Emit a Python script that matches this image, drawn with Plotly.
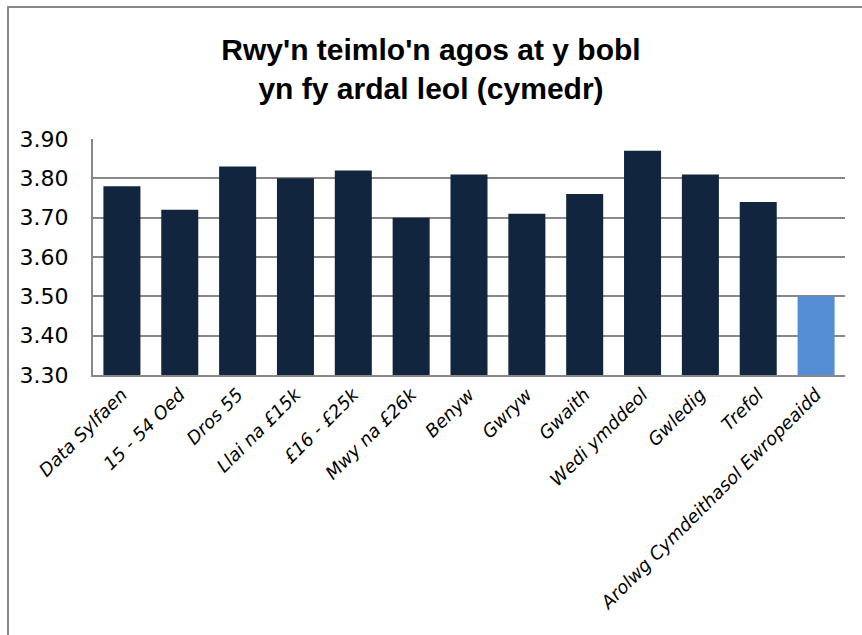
import plotly.graph_objects as go

categories = ["Data Sylfaen", "15 - 54 Oed", "Dros 55", "Llai na £15k", "£16 - £25k",
              "Mwy na £26k", "Benyw", "Gwryw", "Gwaith", "Wedi ymddeol", "Gwledig",
              "Trefol", "Arolwg Cymdeithasol Ewropeaidd"]
values = [3.78, 3.72, 3.83, 3.80, 3.82, 3.70, 3.81, 3.71, 3.76, 3.87, 3.81, 3.74, 3.50]
bar_colors = ["#12253F"] * 12 + ["#558ED5"]
y_ticks = [3.30, 3.40, 3.50, 3.60, 3.70, 3.80, 3.90]
title_text = "Rwy'n teimlo'n agos at y bobl<br>yn fy ardal leol (cymedr)"
y_base = 3.30

fig = go.Figure()
fig.add_trace(go.Bar(
    x=categories, y=[v - y_base for v in values], base=y_base,
    marker=dict(color=bar_colors, line=dict(width=0)),
))

fig.update_layout(
    width=862, height=635,
    margin=dict(l=93, r=17, t=139, b=260),
    paper_bgcolor="white", plot_bgcolor="white",
    bargap=0.36,
    showlegend=False,
    title=dict(text=title_text, x=0.5, xanchor="center", y=1 - 60 / 635, yanchor="middle",
               yref="container",
               font=dict(family="Liberation Sans, Arial, sans-serif",
                         size=30, color="#000000", weight="bold")),
    xaxis=dict(tickangle=-45, tickfont=dict(family="DejaVu Sans, sans-serif", size=18, color="#000000", style="italic"),
               showgrid=False, showline=True, linecolor="#888888", linewidth=2, ticks=""),
    yaxis=dict(range=[3.30, 3.90], tickvals=y_ticks, tickformat=".2f",
               tickfont=dict(family="DejaVu Sans, sans-serif", size=22, color="#000000"),
               ticklabelstandoff=18,
               showgrid=True, gridcolor="#888888", gridwidth=1.5,
               showline=True, linecolor="#888888", linewidth=2, ticks="", zeroline=False),
    shapes=[dict(type="rect", xref="paper", yref="paper",
                 x0=(8 - 93) / 752, x1=2.0, y0=-2.0, y1=(375 - 7) / 236,
                 line=dict(color="#888888", width=2), fillcolor="rgba(0,0,0,0)", layer="below")],
)

fig.write_html("out.html", config={"displayModeBar": False},
               post_script="document.body.style.margin='0px';")
